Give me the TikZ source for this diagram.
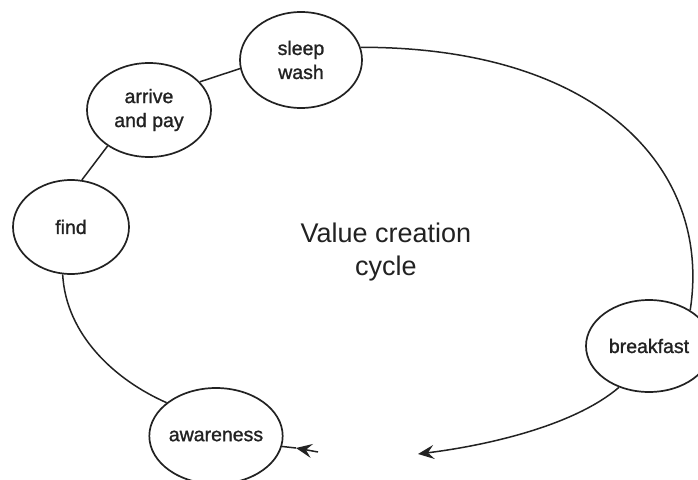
\documentclass[tikz,border=0pt]{standalone}
\usepackage{fontspec}
\setmainfont{Liberation Sans}
\newfontfamily\nodefont[FakeBold=1.2]{Liberation Sans}
\usetikzlibrary{arrows.meta,shapes.geometric}
\definecolor{ink}{HTML}{222222}
\tikzset{
  stage/.style={draw=ink, line width=1.7pt, ellipse, inner sep=0pt, align=center,
     font=\nodefont\fontsize{19.5}{24}\selectfont, text=ink},
  link/.style={draw=ink, line width=1.5pt},
  tip/.style={-{Stealth[length=16pt,width=14pt,inset=6pt]}}
}
\begin{document}
\begin{tikzpicture}[x=1pt,y=-1pt]
\useasboundingbox (0,0) rectangle (698,479);
\clip (0,0) rectangle (698,479);
\fill[white] (0,0) rectangle (698,479);
\node[stage, minimum width=122pt, minimum height=96pt] (sw) at (301,60) {sleep\\wash};
\node[stage, minimum width=124pt, minimum height=94pt] (ap) at (149,110) {arrive\\and pay};
\node[stage, minimum width=116pt, minimum height=94pt] (fd) at (71,227) {find};
\node[stage, minimum width=124pt, minimum height=96pt] (aw) at (216,436) {awareness};
\node[stage, minimum width=126pt, minimum height=92pt] (bf) at (649,346) {breakfast};
\node[align=center, text=ink, font=\fontsize{27}{33}\selectfont] (title) at (386,252) {Value creation\\cycle};
\coordinate (a1) at (318,452);
\coordinate (a2) at (296,448);
\coordinate (b1) at (418,454);
\draw[link] (ap.29) -- (sw.188);
\draw[link] (ap.221) -- (fd.77);
\draw[link] (fd.260) .. controls (66,335) and (115,380) .. (aw.146);
\draw[link] (sw.12) .. controls (600,47) and (712,170) .. (bf.41);
\draw[link, tip] (bf.234) .. controls (575,425) and (490,445) .. (b1);
\draw[link] (aw.351) -- (a2);
\draw[link, tip] (a1) -- (a2);
\end{tikzpicture}
\end{document}
